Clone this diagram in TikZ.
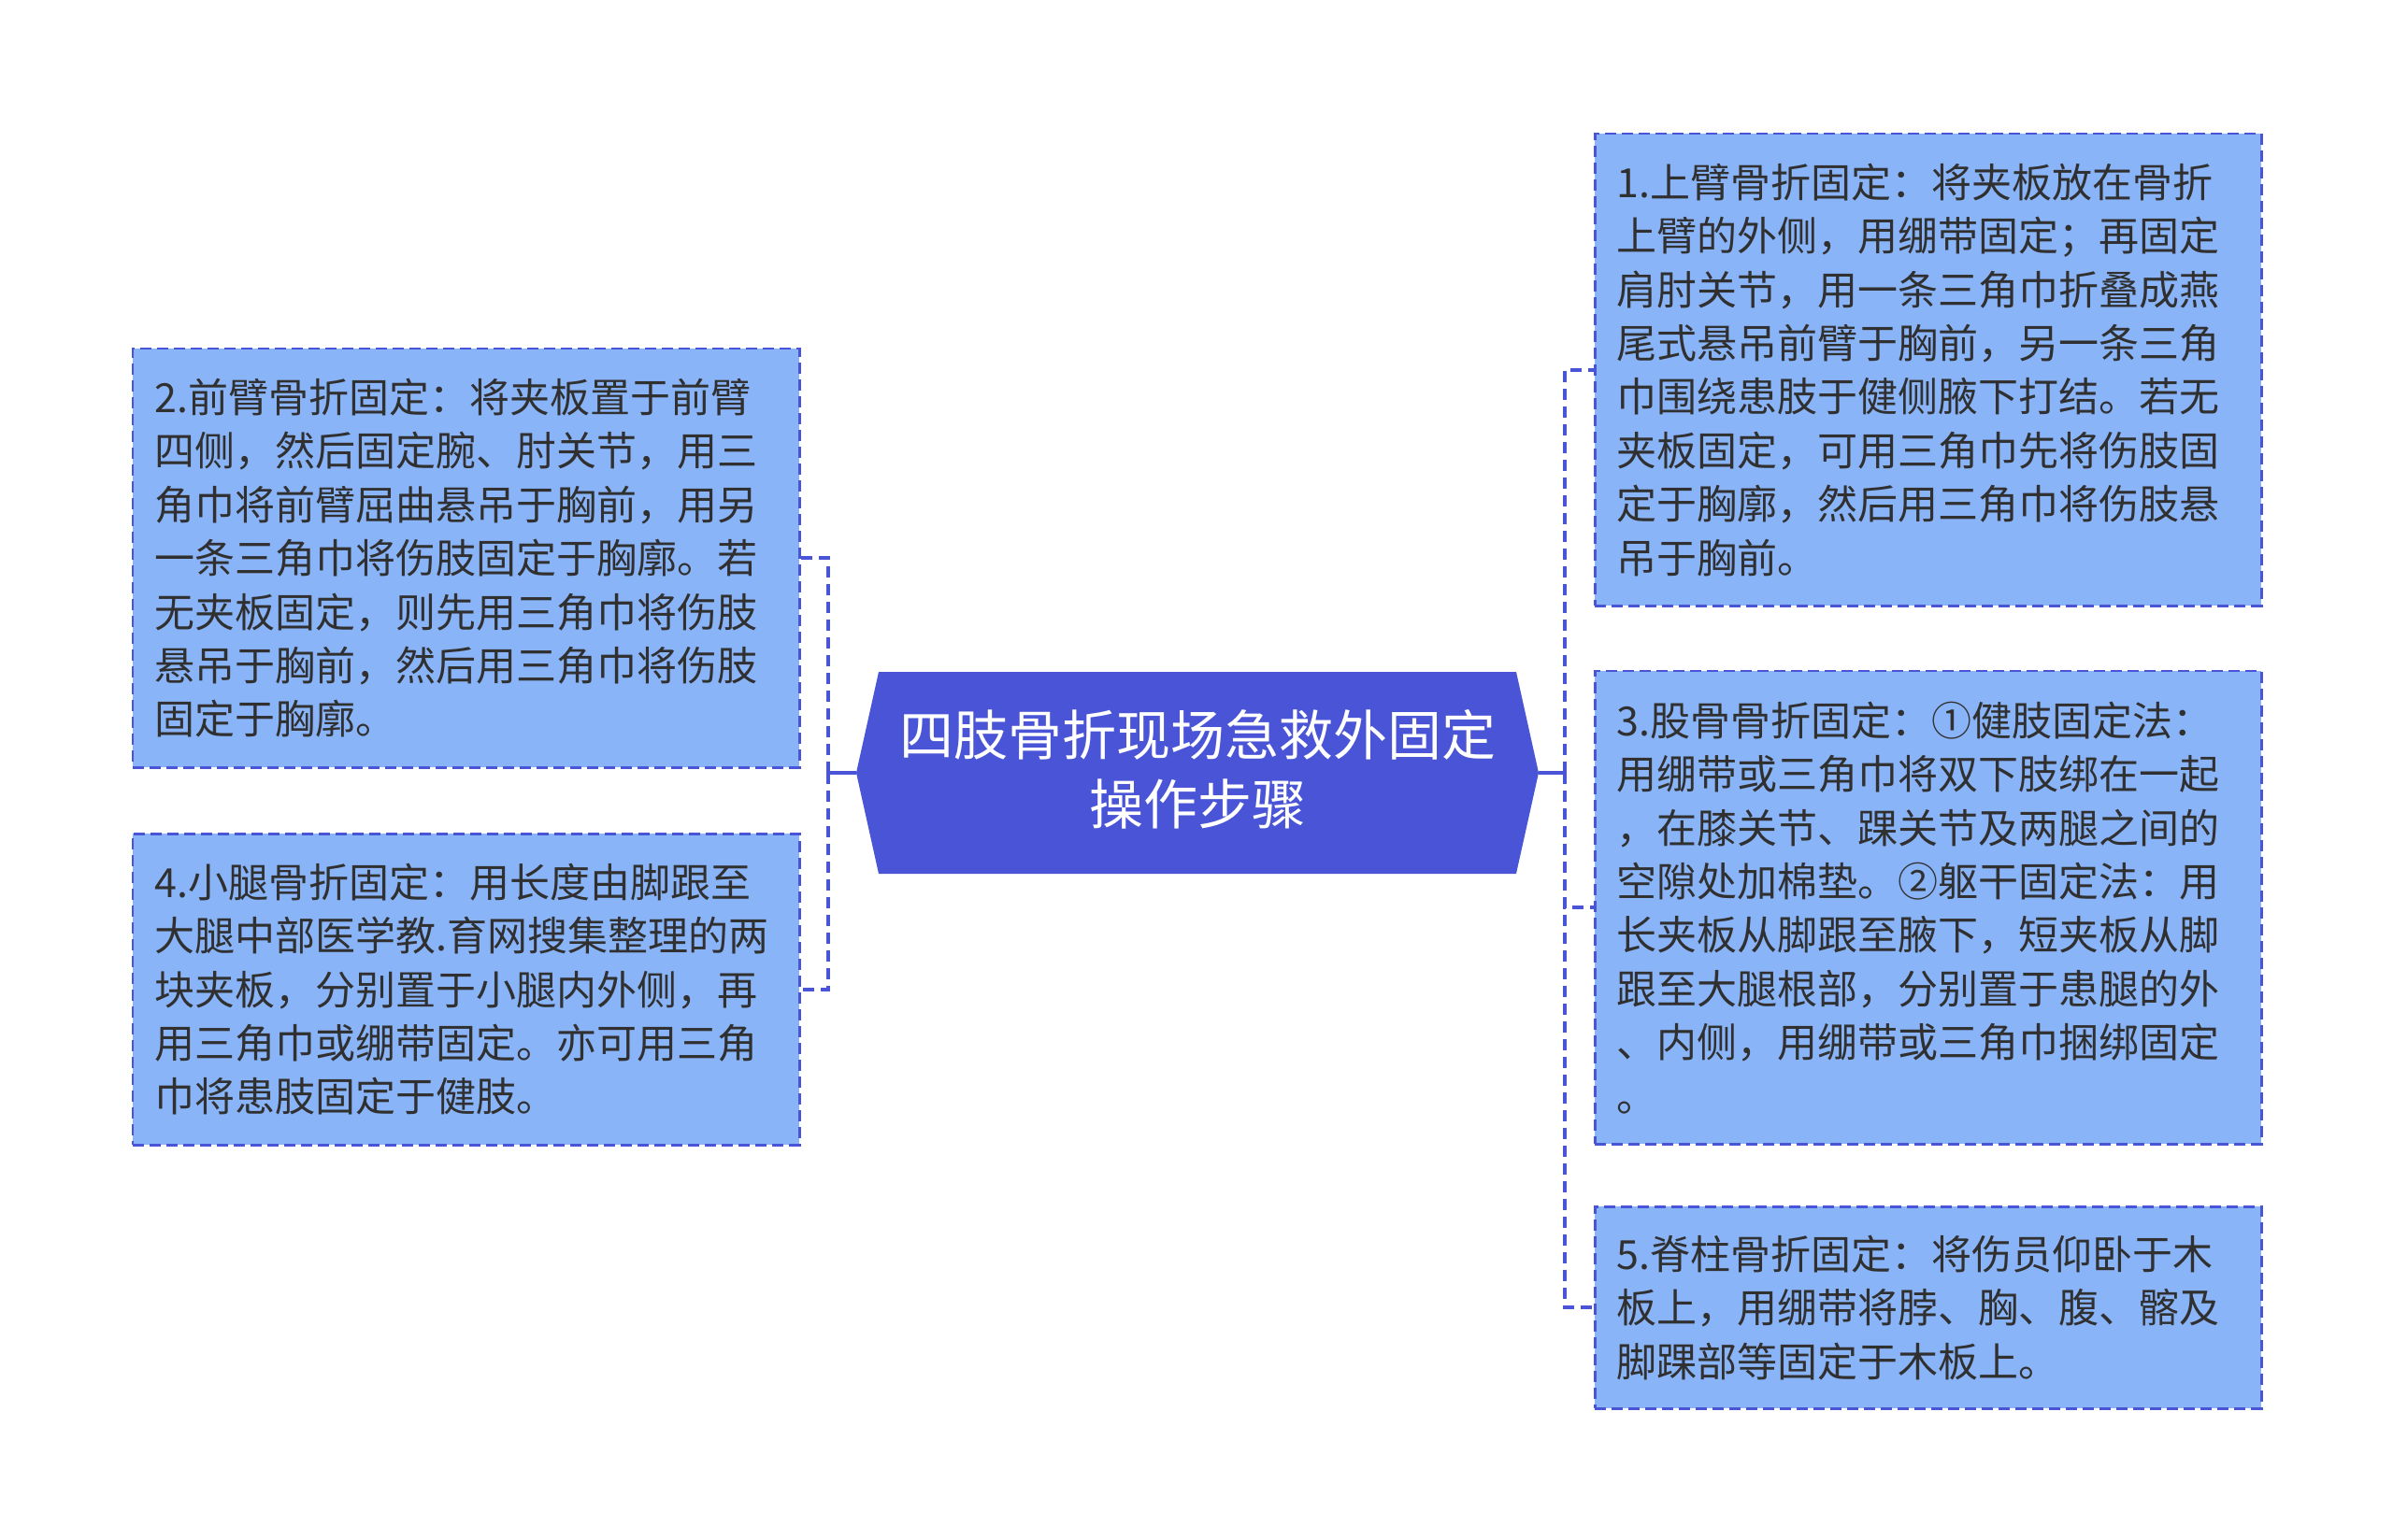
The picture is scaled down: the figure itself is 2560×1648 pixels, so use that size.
\documentclass[tikz,border=0pt]{standalone}
\usepackage{fontspec}
\setmainfont{Noto Sans CJK SC}
\definecolor{hexfill}{HTML}{4A54D6}
\definecolor{boxfill}{HTML}{8AB4F8}
\definecolor{lineblue}{HTML}{4A54D6}
\definecolor{txt}{HTML}{303030}
\begin{document}
\begin{tikzpicture}[x=1bp,y=-1bp,
  boxnode/.style={draw=lineblue, line width=2.5pt, dash pattern=on 12bp off 6bp,
    fill=boxfill, anchor=north west, text width=667bp, inner xsep=23bp, inner ysep=0pt,
    align=left, text=txt, font=\fontsize{43bp}{57.4bp}\selectfont},
  solidconn/.style={draw=lineblue, line width=4pt},
  dashconn/.style={draw=lineblue, line width=4pt, dash pattern=on 12bp off 7bp}
]
\useasboundingbox (0,0) rectangle (2560,1648);
\fill[white] (0,0) rectangle (2560,1648);

% central node
\fill[hexfill] (916,827) -- (940,719) -- (1622,719) -- (1646,827) -- (1622,935) -- (940,935) -- cycle;
\node[text=white, align=center, font=\fontsize{58bp}{74bp}\selectfont] (root) at (1281,823)
  {四肢骨折现场急救外固定\\操作步骤};
\coordinate (rootL) at (916,827);
\coordinate (rootR) at (1646,827);

% boxes right
\node[boxnode, minimum height=505bp] (b1) at (1705,142) {1.上臂骨折固定：将夹板放在骨折\\上臂的外侧，用绷带固定；再固定\\肩肘关节，用一条三角巾折叠成燕\\尾式悬吊前臂于胸前，另一条三角\\巾围绕患肢于健侧腋下打结。若无\\夹板固定，可用三角巾先将伤肢固\\定于胸廓，然后用三角巾将伤肢悬\\吊于胸前。};
\node[boxnode, minimum height=506bp] (b3) at (1705,717) {3.股骨骨折固定：①健肢固定法：\\用绷带或三角巾将双下肢绑在一起\\，在膝关节、踝关节及两腿之间的\\空隙处加棉垫。②躯干固定法：用\\长夹板从脚跟至腋下，短夹板从脚\\跟至大腿根部，分别置于患腿的外\\、内侧，用绷带或三角巾捆绑固定\\。};
\node[boxnode, minimum height=216bp] (b5) at (1705,1290) {5.脊柱骨折固定：将伤员仰卧于木\\板上，用绷带将脖、胸、腹、髂及\\脚踝部等固定于木板上。};

% boxes left
\node[boxnode, minimum height=448bp] (b2) at (141,372) {2.前臂骨折固定：将夹板置于前臂\\四侧，然后固定腕、肘关节，用三\\角巾将前臂屈曲悬吊于胸前，用另\\一条三角巾将伤肢固定于胸廓。若\\无夹板固定，则先用三角巾将伤肢\\悬吊于胸前，然后用三角巾将伤肢\\固定于胸廓。};
\node[boxnode, minimum height=333bp] (b4) at (141,891) {4.小腿骨折固定：用长度由脚跟至\\大腿中部医学教.育网搜集整理的两\\块夹板，分别置于小腿内外侧，再\\用三角巾或绷带固定。亦可用三角\\巾将患肢固定于健肢。};

% connectors
\coordinate (rj) at (1674,827);
\coordinate (lj) at (886,827);
\draw[solidconn] (rootR) -- (rj);
\draw[solidconn] (rootL) -- (lj);
\draw[dashconn] (rj) |- (b1.west);
\draw[dashconn] (rj) |- (b3.west);
\draw[dashconn] (rj) |- (b5.west);
\draw[dashconn] (lj) |- (b2.east);
\draw[dashconn] (lj) |- (b4.east);
\end{tikzpicture}
\end{document}
